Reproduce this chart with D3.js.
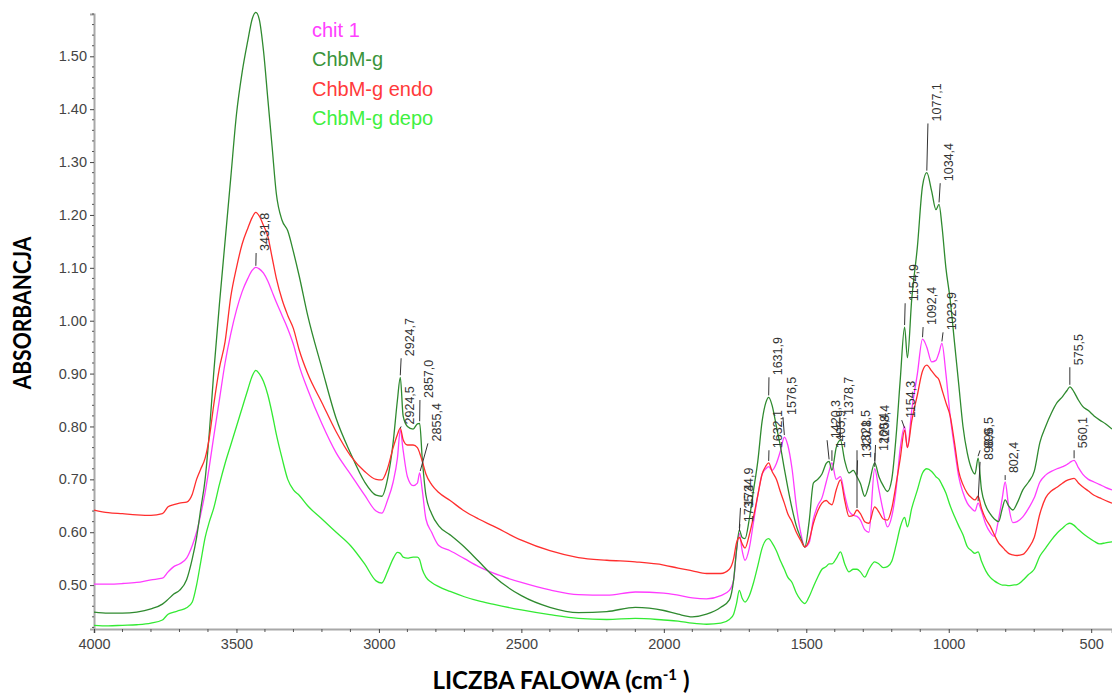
<!DOCTYPE html>
<html><head><meta charset="utf-8">
<script src="https://cdn.jsdelivr.net/npm/d3@7"></script>
<style>
html,body{margin:0;padding:0;background:#fff;}
svg{display:block;}
</style></head>
<body><svg id="chart" width="1112" height="693"></svg>
<script>
const wavenumbers = [
 4000,3950,3900,3850,3800,3760,3740,3720,3700,3675,
 3655,3640,3625,3610,3595,3580,3560,3540,3520,3500,
 3480,3460,3445,3432,3420,3405,3390,3375,3360,3340,
 3320,3300,3280,3250,3200,3150,3100,3050,3010,2990,
 2970,2950,2935,2925,2915,2900,2880,2865,2857,2848,
 2835,2815,2790,2750,2700,2650,2600,2500,2400,2300,
 2200,2100,2000,1950,1900,1850,1800,1770,1755,1745,
 1735,1725,1715,1700,1685,1670,1655,1642,1632,1620,
 1605,1590,1577,1565,1550,1535,1520,1505,1490,1475,
 1460,1445,1430,1420,1410,1395,1380,1365,1350,1335,
 1322,1310,1295,1280,1260,1245,1230,1215,1200,1185,
 1170,1155,1145,1130,1110,1092,1077,1060,1045,1034,
 1024,1010,995,980,965,950,935,920,908,897,
 885,870,855,840,825,812,802,790,775,760,
 740,720,700,680,660,640,620,600,585,575,
 560,545,530,510,490,470,450,427];

const chit1 = [
 0.502,0.502,0.503,0.505,0.510,0.513,0.525,0.535,0.540,0.551,
 0.575,0.600,0.635,0.675,0.725,0.780,0.850,0.920,0.975,1.020,
 1.055,1.080,1.095,1.101,1.098,1.090,1.075,1.055,1.035,1.010,
 0.985,0.955,0.915,0.870,0.805,0.750,0.710,0.670,0.640,0.636,
 0.660,0.695,0.740,0.793,0.755,0.705,0.688,0.693,0.712,0.680,
 0.625,0.600,0.575,0.565,0.550,0.535,0.523,0.505,0.491,0.482,
 0.481,0.487,0.485,0.481,0.476,0.474,0.480,0.490,0.510,0.565,
 0.598,0.565,0.547,0.570,0.620,0.670,0.710,0.720,0.724,0.717,
 0.730,0.755,0.780,0.765,0.720,0.650,0.600,0.572,0.580,0.625,
 0.650,0.665,0.695,0.715,0.731,0.700,0.705,0.670,0.640,0.632,
 0.630,0.623,0.605,0.600,0.720,0.680,0.640,0.610,0.630,0.680,
 0.760,0.800,0.760,0.830,0.900,0.965,0.950,0.922,0.925,0.940,
 0.957,0.900,0.820,0.760,0.705,0.675,0.655,0.645,0.640,0.655,
 0.640,0.615,0.600,0.592,0.625,0.665,0.695,0.650,0.618,0.620,
 0.629,0.645,0.665,0.695,0.708,0.715,0.720,0.724,0.728,0.732,
 0.736,0.722,0.710,0.700,0.695,0.690,0.685,0.680];

const chbmG = [
 0.449,0.447,0.447,0.449,0.455,0.464,0.473,0.483,0.490,0.510,
 0.550,0.590,0.645,0.700,0.790,0.900,1.030,1.150,1.270,1.390,
 1.470,1.530,1.570,1.583,1.570,1.510,1.420,1.330,1.240,1.190,
 1.170,1.130,1.085,1.010,0.910,0.815,0.750,0.695,0.670,0.668,
 0.700,0.770,0.850,0.893,0.820,0.800,0.795,0.805,0.806,0.740,
 0.670,0.635,0.612,0.595,0.572,0.545,0.518,0.480,0.458,0.448,
 0.450,0.458,0.452,0.445,0.440,0.445,0.458,0.472,0.510,0.565,
 0.604,0.590,0.588,0.625,0.680,0.735,0.810,0.845,0.855,0.840,
 0.800,0.760,0.720,0.685,0.645,0.612,0.590,0.572,0.620,0.693,
 0.700,0.710,0.730,0.734,0.717,0.760,0.774,0.735,0.712,0.717,
 0.705,0.692,0.668,0.690,0.731,0.705,0.688,0.677,0.700,0.780,
 0.890,0.988,0.930,1.040,1.140,1.255,1.280,1.245,1.210,1.220,
 1.180,1.100,1.040,0.960,0.880,0.800,0.750,0.720,0.710,0.740,
 0.680,0.650,0.635,0.625,0.620,0.645,0.661,0.650,0.642,0.655,
 0.680,0.695,0.715,0.770,0.800,0.825,0.845,0.857,0.868,0.875,
 0.865,0.850,0.838,0.830,0.820,0.812,0.805,0.795];

const chbmGEndo = [
 0.642,0.637,0.635,0.633,0.632,0.635,0.648,0.652,0.655,0.657,
 0.672,0.700,0.720,0.740,0.780,0.840,0.910,0.960,1.045,1.100,
 1.145,1.175,1.195,1.205,1.198,1.180,1.160,1.120,1.080,1.040,
 1.010,0.985,0.945,0.900,0.845,0.790,0.745,0.715,0.700,0.699,
 0.720,0.760,0.785,0.797,0.775,0.765,0.765,0.760,0.750,0.735,
 0.710,0.690,0.675,0.660,0.640,0.625,0.612,0.585,0.565,0.552,
 0.547,0.544,0.538,0.532,0.527,0.522,0.522,0.530,0.550,0.580,
 0.590,0.578,0.570,0.595,0.630,0.670,0.710,0.725,0.731,0.715,
 0.700,0.675,0.655,0.635,0.620,0.600,0.585,0.572,0.585,0.617,
 0.640,0.655,0.660,0.655,0.652,0.680,0.699,0.660,0.630,0.632,
 0.642,0.635,0.620,0.617,0.648,0.638,0.625,0.623,0.645,0.690,
 0.740,0.793,0.760,0.810,0.860,0.905,0.916,0.905,0.895,0.888,
 0.870,0.845,0.820,0.770,0.715,0.690,0.674,0.665,0.661,0.668,
 0.645,0.625,0.612,0.595,0.580,0.572,0.566,0.560,0.557,0.556,
 0.558,0.570,0.590,0.635,0.665,0.678,0.685,0.693,0.698,0.700,
 0.702,0.693,0.686,0.678,0.670,0.665,0.660,0.655];

const chbmGDepo = [
 0.424,0.423,0.424,0.425,0.428,0.434,0.445,0.449,0.452,0.457,
 0.468,0.500,0.545,0.590,0.620,0.645,0.690,0.730,0.765,0.800,
 0.835,0.870,0.895,0.906,0.900,0.885,0.860,0.825,0.785,0.740,
 0.700,0.680,0.670,0.650,0.625,0.600,0.575,0.540,0.508,0.504,
 0.525,0.550,0.562,0.560,0.553,0.551,0.553,0.553,0.548,0.530,
 0.515,0.505,0.497,0.488,0.478,0.470,0.464,0.453,0.444,0.437,
 0.435,0.437,0.434,0.432,0.428,0.426,0.428,0.435,0.445,0.465,
 0.490,0.475,0.468,0.480,0.505,0.537,0.570,0.585,0.588,0.580,
 0.565,0.545,0.530,0.515,0.505,0.485,0.472,0.465,0.478,0.497,
 0.515,0.530,0.535,0.540,0.540,0.550,0.563,0.540,0.525,0.530,
 0.530,0.525,0.515,0.530,0.544,0.540,0.533,0.535,0.545,0.575,
 0.610,0.628,0.610,0.645,0.680,0.712,0.720,0.715,0.705,0.700,
 0.690,0.674,0.650,0.630,0.612,0.595,0.573,0.565,0.560,0.563,
 0.545,0.527,0.515,0.508,0.503,0.500,0.500,0.499,0.500,0.501,
 0.509,0.520,0.530,0.555,0.570,0.585,0.598,0.608,0.615,0.617,
 0.613,0.605,0.598,0.590,0.583,0.578,0.580,0.582];

const seriesNames = ["chit 1", "ChbM-g", "ChbM-g endo", "ChbM-g depo"];
const seriesValues = [chit1, chbmG, chbmGEndo, chbmGDepo];

const xTicks = [4000, 3500, 3000, 2500, 2000, 1500, 1000, 500];
const yTicks = [0.50, 0.60, 0.70, 0.80, 0.90, 1.00, 1.10, 1.20, 1.30, 1.40, 1.50];

// peak annotations: label, peak wavenumber / absorbance, leader-top wavenumber / absorbance
const peakText  = ["3431,8","2924,7","2924,5","2857,0","2855,4","1735,4","1734,9","1631,9","1632,1","1576,5","1420,3","1405,9","1378,7","1321,5","1320,8","1260,4","1258,4","1154,9","1154,3","1092,4","1077,1","1034,4","1023,9","898,9","896,5","802,4","575,5","560,1"];
const peakWave  = [3432,2925,2925,2857,2855,1735,1735,1632,1632,1577,1420,1410,1380,1322,1322,1260,1260,1155,1155,1092,1077,1034,1024,897,897,802,575,560];
const peakAbs   = [1.100,0.893,0.793,0.806,0.712,0.598,0.604,0.855,0.731,0.780,0.734,0.731,0.774,0.642,0.705,0.731,0.720,0.988,0.793,0.965,1.280,1.220,0.957,0.655,0.740,0.695,0.875,0.736];
const leadWave  = [3431,2922,2922,2856,2828,1733,1731,1631,1631,1582,1427,1410,1382,1322,1320,1259,1257,1153,1165,1090,1073,1030,1020,890,890,802,575,560];
const leadAbs   = [1.128,0.929,0.800,0.850,0.768,0.615,0.646,0.893,0.755,0.818,0.774,0.755,0.818,0.755,0.736,0.750,0.765,1.033,0.812,0.988,1.373,1.260,0.978,0.733,0.755,0.708,0.912,0.755];

// ---- styles ----
const seriesColors = ["#ff3cff", "#2f8a2f", "#ff2e2e", "#33ea33"];
const legendColors = ["#ff40ff", "#3a943a", "#ff3a3a", "#40f040"];

const svg = d3.select("#chart");
const x = d3.scaleLinear().domain([4000, 427]).range([94, 1112]);
const y = d3.scaleLinear().domain([0.417, 1.58]).range([629, 14]);

// axes
const yAxis = d3.axisLeft(y).tickValues(yTicks).tickFormat(d3.format(".2f")).tickSize(4).tickPadding(3);
const gy = svg.append("g").attr("transform", "translate(94,0)").call(yAxis);
const xAxis = d3.axisBottom(x).tickValues(xTicks).tickFormat(d3.format("d")).tickSize(4).tickPadding(6);
const gx = svg.append("g").attr("transform", "translate(0,629)").call(xAxis);

[gx, gy].forEach(g => {
  g.select(".domain").attr("stroke", "#a8a8a8").attr("stroke-width", 2);
  g.selectAll(".tick line").attr("stroke", "#444");
  g.selectAll(".tick text").attr("fill", "#444").attr("font-size", 14.5)
    .attr("font-family", "'Liberation Sans', Arial, sans-serif");
});

// minor ticks
const yMinor = d3.range(0.42, 1.58, 0.02).filter(v => !yTicks.some(t => Math.abs(t - v) < 1e-6));
svg.append("g").selectAll("line").data(yMinor).join("line")
  .attr("x1", 92).attr("x2", 94).attr("y1", d => y(d)).attr("y2", d => y(d))
  .attr("stroke", "#555").attr("stroke-width", 1);
const xMinor = d3.range(4000, 427, -100).filter(v => !xTicks.includes(v));
svg.append("g").selectAll("line").data(xMinor).join("line")
  .attr("x1", d => x(d)).attr("x2", d => x(d)).attr("y1", 629).attr("y2", 632)
  .attr("stroke", "#555").attr("stroke-width", 1);

// lines
const plot = svg.append("g");
const line = d3.line().x(d => x(d[0])).y(d => y(d[1])).curve(d3.curveMonotoneX);
seriesValues.forEach((vals, i) => {
  const pts = wavenumbers.map((w, j) => [w, vals[j]]);
  plot.append("path").datum(pts)
    .attr("fill", "none").attr("stroke", seriesColors[i]).attr("stroke-width", 1.3)
    .attr("stroke-linejoin", "round").attr("d", line);
});

// peak annotations
const ann = svg.append("g");
peakText.forEach((t, i) => {
  const x0 = x(peakWave[i]), y0 = y(peakAbs[i]) - 2;
  const x1 = x(leadWave[i]), y1 = y(leadAbs[i]);
  if (y1 < y0) {
    ann.append("line").attr("x1", x0).attr("y1", y0).attr("x2", x1).attr("y2", y1)
      .attr("stroke", "#333").attr("stroke-width", 1);
  }
  ann.append("text")
    .attr("transform", `translate(${x1 + 9},${Math.min(y0, y1) - 2}) rotate(-90)`)
    .attr("text-anchor", "start").attr("dominant-baseline", "central")
    .attr("font-family", "'Liberation Sans', Arial, sans-serif")
    .attr("font-size", 12.5).attr("fill", "#333").text(t);
});

// legend
svg.append("g").selectAll("text").data(seriesNames).join("text")
  .attr("x", 312).attr("y", (d, i) => 37 + i * 29.3)
  .attr("font-family", "'Liberation Sans', Arial, sans-serif").attr("font-size", 20)
  .attr("fill", (d, i) => legendColors[i]).text(d => d);

// axis titles
svg.append("text")
  .attr("transform", "translate(31,313) rotate(-90)")
  .attr("text-anchor", "middle")
  .attr("font-family", "Lato, 'Open Sans', sans-serif").attr("font-weight", 700)
  .attr("font-size", 24).attr("fill", "#000")
  .attr("textLength", 153).attr("lengthAdjust", "spacingAndGlyphs")
  .text("ABSORBANCJA");

const xt = svg.append("text")
  .attr("x", 561).attr("y", 689).attr("text-anchor", "middle")
  .attr("font-family", "Lato, 'Open Sans', sans-serif").attr("font-weight", 700)
  .attr("font-size", 24).attr("fill", "#000");
xt.append("tspan").text("LICZBA FALOWA (cm");
xt.append("tspan").attr("font-size", 15).attr("dy", -9).text("-1");
xt.append("tspan").attr("dy", 9).text(" )");
</script>
</body></html>
